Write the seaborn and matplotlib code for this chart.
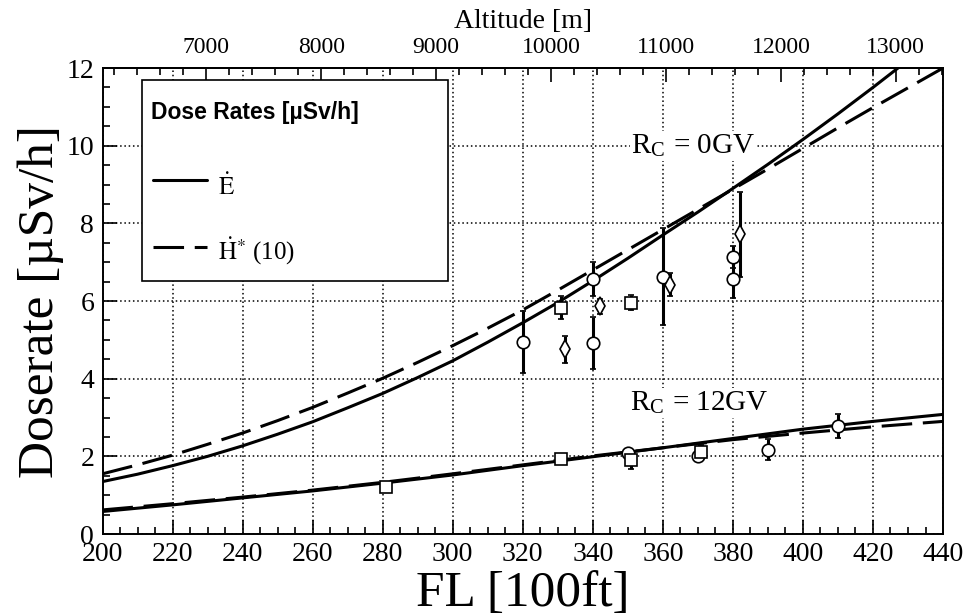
import numpy as np
import pandas as pd
import matplotlib
matplotlib.use("Agg")
import matplotlib.pyplot as plt
import seaborn as sns
from matplotlib.patches import Rectangle
from matplotlib.ticker import MultipleLocator, FixedLocator

# model curves (every 10 FL)
fl = [200, 210, 220, 230, 240, 250, 260, 270, 280, 290, 300, 310, 320,
      330, 340, 350, 360, 370, 380, 390, 400, 410, 420, 430, 440]
e_rc0 = [1.35, 1.54, 1.76, 2.0, 2.27, 2.57, 2.89, 3.25, 3.62, 4.03, 4.46, 4.94, 5.44,
         5.96, 6.52, 7.1, 7.7, 8.29, 8.9, 9.52, 10.16, 10.82, 11.5, 12.2, 12.9]
h_rc0 = [1.55, 1.78, 2.03, 2.31, 2.6, 2.92, 3.26, 3.63, 4.01, 4.42, 4.85, 5.3, 5.77,
         6.28, 6.8, 7.32, 7.84, 8.36, 8.88, 9.4, 9.93, 10.46, 10.98, 11.49, 12.0]
e_rc12 = [0.58, 0.665, 0.75, 0.84, 0.93, 1.02, 1.11, 1.21, 1.31, 1.415, 1.52, 1.64, 1.76,
          1.875, 1.99, 2.105, 2.22, 2.34, 2.46, 2.58, 2.7, 2.8, 2.9, 2.99, 3.08]
h_rc12 = [0.62, 0.7, 0.78, 0.865, 0.95, 1.04, 1.13, 1.23, 1.33, 1.44, 1.55, 1.665, 1.78,
          1.895, 2.01, 2.115, 2.22, 2.325, 2.43, 2.515, 2.6, 2.68, 2.76, 2.83, 2.9]

# measurements
circ_fl = [320, 340, 340, 360, 380, 380, 350, 370, 390, 410]
circ_y = [4.95, 6.57, 4.91, 6.62, 7.13, 6.57, 2.08, 2.01, 2.17, 2.78]
circ_err = [0.8, 0.44, 0.67, 1.25, 0.28, 0.5, 0.06, 0.1, 0.27, 0.3]

sq_fl = [331, 351, 281, 331, 351, 371]
sq_y = [5.83, 5.96, 1.22, 1.92, 1.91, 2.1]
sq_err = [0.3, 0.2, 0.06, 0.07, 0.24, 0.2]

dia_fl = [332, 342, 362, 382]
dia_y = [4.76, 5.86, 6.42, 7.72]
dia_err = [0.35, 0.2, 0.3, 1.1]

alt_ticks = [7000, 8000, 9000, 10000, 11000, 12000, 13000]

FT_TO_M = 30.48  # FL (100 ft) -> metres

sns.set_theme(style="ticks")
plt.rcParams["font.family"] = ["Liberation Serif", "DejaVu Serif"]
plt.rcParams["mathtext.fontset"] = "stix"
plt.rcParams["axes.edgecolor"] = "black"
plt.rcParams["axes.linewidth"] = 1.4
plt.rcParams["text.color"] = "black"
plt.rcParams["axes.labelcolor"] = "black"

curves = pd.DataFrame({"fl": fl, "e0": e_rc0, "h0": h_rc0, "e12": e_rc12, "h12": h_rc12})

fig = plt.figure(figsize=(9.69, 6.15), dpi=100)
ax = fig.add_axes([0.1058, 0.1317, 0.8674, 0.7577])

dash = (0, (10, 3.5))
sns.lineplot(data=curves, x="fl", y="e0", ax=ax, color="black", lw=2.2, zorder=3)
sns.lineplot(data=curves, x="fl", y="h0", ax=ax, color="black", lw=2.2, linestyle=dash, zorder=3)
sns.lineplot(data=curves, x="fl", y="e12", ax=ax, color="black", lw=2.2, zorder=3)
sns.lineplot(data=curves, x="fl", y="h12", ax=ax, color="black", lw=2.2, linestyle=dash, zorder=3)

err_kw = dict(color="black", mfc="white", mec="black", mew=1.2, elinewidth=2.2,
              capsize=2.2, capthick=2.5, ls="none", zorder=4)
ax.errorbar(circ_fl, circ_y, yerr=circ_err, fmt="o", ms=9, **err_kw)
ax.errorbar(sq_fl, sq_y, yerr=sq_err, fmt="s", ms=8.5, **err_kw)
ax.errorbar(dia_fl, dia_y, yerr=dia_err, fmt="d", ms=9, **err_kw)

ax.set_xlim(200, 440)
ax.set_ylim(0, 12)
ax.xaxis.set_major_locator(MultipleLocator(20))
ax.xaxis.set_minor_locator(MultipleLocator(5))
ax.yaxis.set_major_locator(MultipleLocator(2))
ax.yaxis.set_minor_locator(MultipleLocator(0.5))
ax.tick_params(which="both", direction="in", top=False, right=False, width=1.2,
               labelsize=20, colors="black")
ax.tick_params(which="major", length=10, pad=6)
ax.tick_params(which="minor", length=5)
ax.grid(True, which="major", color="black", linestyle=(0, (1, 1.8)), linewidth=1.1)

ax.set_xlabel("FL [100ft]", fontsize=37, labelpad=2)
ax.set_ylabel("Doserate [µSv/h]", fontsize=37, labelpad=2)

top = ax.secondary_xaxis("top", functions=(lambda f: f * FT_TO_M, lambda m: m / FT_TO_M))
top.xaxis.set_major_locator(FixedLocator(alt_ticks))
top.xaxis.set_minor_locator(MultipleLocator(200))
top.tick_params(which="both", direction="in", width=1.2, labelsize=17, colors="black")
top.tick_params(which="major", length=10, pad=7)
top.tick_params(which="minor", length=5)
top.set_xlabel("Altitude [m]", fontsize=20, labelpad=7)

white = dict(facecolor="white", edgecolor="none", pad=1)
ax.text(351, 10.0, r"R$_\mathregular{C}$ = 0GV", fontsize=21, va="center", ha="left",
        bbox=white, zorder=6)
ax.text(350.5, 3.18, r"R$_\mathregular{C}$ = 12GV", fontsize=21, va="baseline", ha="left",
        bbox=white, zorder=6)

# legend box
ax.add_patch(Rectangle((0.0466, 0.5436), 0.3644, 0.4304, transform=ax.transAxes,
                       facecolor="white", edgecolor="black", lw=1.2, zorder=7))
ax.text(0.058, 0.905, "Dose Rates [µSv/h]", transform=ax.transAxes, fontsize=16.5,
        fontweight="bold", family=["Liberation Sans", "DejaVu Sans"], va="center", zorder=8)
ax.plot([0.06, 0.124], [0.76, 0.76], transform=ax.transAxes, color="black", lw=2.2, zorder=8)
ax.plot([0.06, 0.124], [0.616, 0.616], transform=ax.transAxes, color="black", lw=2.2,
        linestyle=dash, zorder=8)
ax.text(0.137, 0.745, r"$\dot{\mathrm{E}}$", transform=ax.transAxes, fontsize=18, va="center", zorder=8)
ax.text(0.137, 0.607, r"$\dot{\mathrm{H}}^{*}$ (10)", transform=ax.transAxes, fontsize=18,
        va="center", zorder=8)

fig.savefig("out.png", dpi=100)
